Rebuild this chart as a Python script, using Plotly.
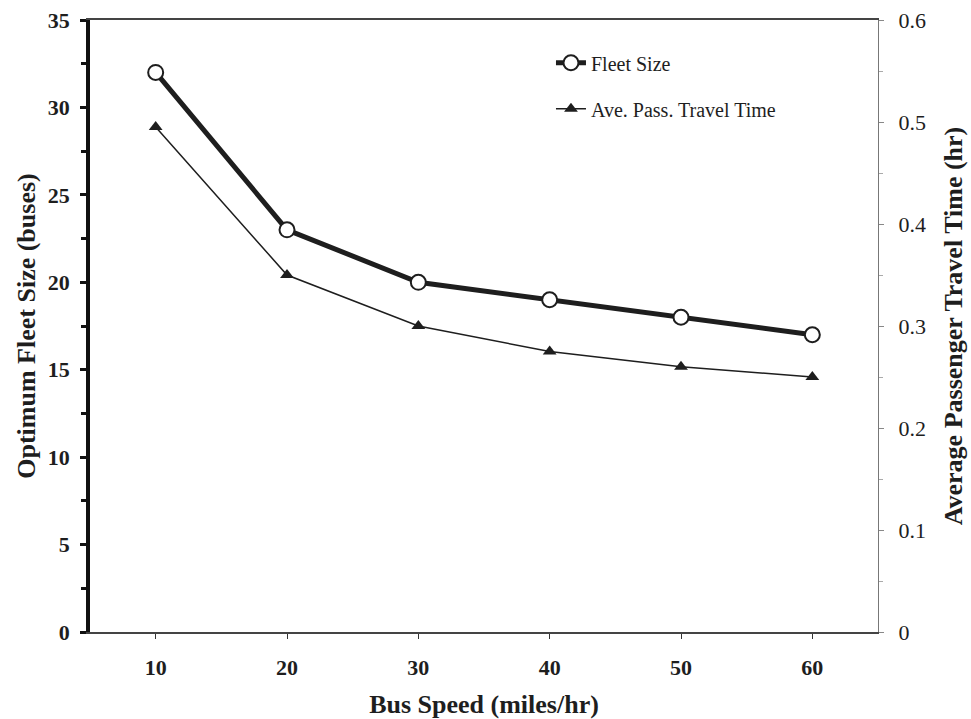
import plotly.graph_objects as go

# Bus speed (miles/hr)
speed = [10, 20, 30, 40, 50, 60]
# Optimum fleet size (buses)
fleet_size = [32, 23, 20, 19, 18, 17]
# Average passenger travel time (hr)
travel_time = [0.495, 0.35, 0.30, 0.275, 0.26, 0.25]

SERIF = "Liberation Serif, Times New Roman, serif"
INK = "#1e1e1e"

fig = go.Figure()

fig.add_trace(go.Scatter(
    x=speed, y=fleet_size, name="Fleet Size",
    mode="lines+markers",
    line=dict(color=INK, width=5),
    marker=dict(symbol="circle", size=15, color="white",
                line=dict(color=INK, width=2)),
    legendgroup="a",
))

fig.add_trace(go.Scatter(
    x=speed, y=travel_time, name="Ave. Pass. Travel Time",
    mode="lines+markers", yaxis="y2",
    line=dict(color=INK, width=1.5),
    marker=dict(symbol="triangle-up", size=12, color=INK),
    legendgroup="b",
))

fig.update_layout(
    width=971, height=719,
    margin=dict(l=90, r=93, t=20, b=87),
    paper_bgcolor="white", plot_bgcolor="white",
    font=dict(family=SERIF, color=INK),
    showlegend=True,
    legend=dict(
        x=0.585, y=0.962, xanchor="left", yanchor="top",
        bgcolor="rgba(0,0,0,0)",
        font=dict(family=SERIF, size=20, color=INK),
        traceorder="grouped", tracegroupgap=17,
        itemwidth=30,
    ),
    xaxis=dict(
        range=[5, 65], tickvals=speed, automargin=False,
        showgrid=False, zeroline=False,
        showline=True, linecolor="#444", linewidth=1.5, mirror=True,
        ticks="outside", ticklen=5, tickcolor="#333",
        ticklabelstandoff=10,
        tickfont=dict(family=SERIF, size=22, weight="bold"),
        title=dict(text="Bus Speed (miles/hr)", standoff=18,
                   font=dict(family=SERIF, size=26, weight="bold")),
    ),
    yaxis=dict(
        range=[0, 35], dtick=5, automargin=False,
        showgrid=False, zeroline=False,
        showline=True, linecolor="#111", linewidth=3.5,
        ticks="outside", ticklen=6, tickwidth=3, tickcolor="#111",
        minor=dict(dtick=2.5, ticks="outside", ticklen=5, tickwidth=3,
                   tickcolor="#111"),
        ticklabelstandoff=6,
        tickfont=dict(family=SERIF, size=22, weight="bold"),
        title=dict(text="Optimum Fleet Size (buses)", standoff=6,
                   font=dict(family=SERIF, size=26, weight="bold")),
    ),
    yaxis2=dict(
        range=[0, 0.6], dtick=0.1, overlaying="y", side="right",
        automargin=False,
        showgrid=False, zeroline=False,
        showline=True, linecolor="#777", linewidth=1,
        ticks="outside", ticklen=5, tickcolor="#888",
        minor=dict(dtick=0.05, ticks="outside", ticklen=4, tickcolor="#aaa"),
        ticklabelstandoff=10,
        tickfont=dict(family=SERIF, size=22),
        title=dict(text="Average Passenger Travel Time (hr)", standoff=18,
                   font=dict(family=SERIF, size=26, weight="bold")),
    ),
)

fig.write_html("out.html")
